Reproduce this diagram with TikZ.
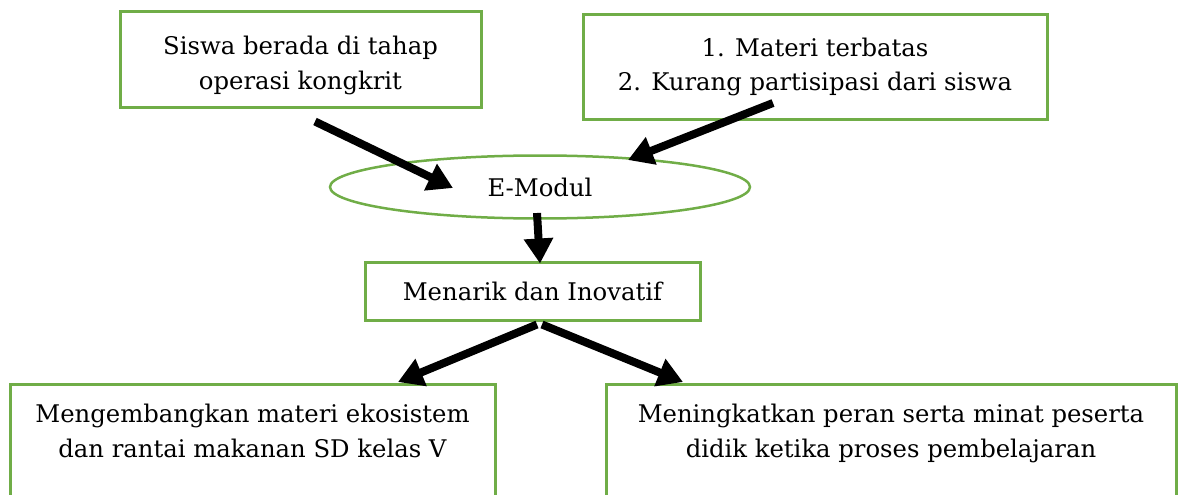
\documentclass[tikz,border=0pt]{standalone}
\usepackage{fontspec}
\setmainfont{DejaVu Serif}
\usetikzlibrary{arrows.meta,calc,shapes.geometric}
\definecolor{boxgreen}{HTML}{70AD47}
\begin{document}
\begin{tikzpicture}[x=1pt,y=-1pt,
  font=\fontsize{24.3}{34.5}\selectfont,
  box/.style={draw=boxgreen, line width=3pt, align=center, inner sep=0pt},
  openbox/.style={box, anchor=north, inner ysep=20pt},
  arr/.style={line width=8pt, -{Triangle[length=25pt,width=28pt]}}]
\useasboundingbox (0,0) rectangle (1178,495);
\clip (0,0) rectangle (1178,495);
\node[box, minimum width=361pt, minimum height=95pt] (b1) at (300.5,59.5) {\rule{0pt}{30pt}Siswa berada di tahap\\operasi kongkrit};
\node[box, minimum width=464pt, minimum height=104pt] (b2) at (815,67) {1. Materi terbatas\\2. Kurang partisipasi dari siswa};
\node[draw=boxgreen, line width=2.5pt, ellipse, minimum width=420pt, minimum height=63pt, inner sep=0pt] (em) at (540,187) {E-Modul};
\node[box, minimum width=335pt, minimum height=58pt] (b3) at (532.5,291) {Menarik dan Inovatif};
\node[openbox, minimum width=485pt] (b4) at (252.5,383) {Mengembangkan materi ekosistem\\dan rantai makanan SD kelas V\\\rule{0pt}{80pt}};
\node[openbox, minimum width=570pt] (b5) at (891,383) {Meningkatkan peran serta minat peserta\\didik ketika proses pembelajaran\\\rule{0pt}{80pt}};
\draw[arr] ($(b1.south)+(14.5,13)$) -- ($(em.center)+(-87,1)$);
\draw[arr] ($(b2.center)+(-42,36)$) -- ($(em.center)+(88,-27)$);
\draw[arr] ($(em.center)+(-3,26)$) -- ($(b3.north)+(7.5,3)$);
\draw[arr] ($(b3.south)+(4.5,3)$) -- ($(b4.north)+(145.5,-1)$);
\draw[arr] ($(b3.south)+(9.5,3)$) -- ($(b5.north)+(-208,-1)$);
\end{tikzpicture}
\end{document}
